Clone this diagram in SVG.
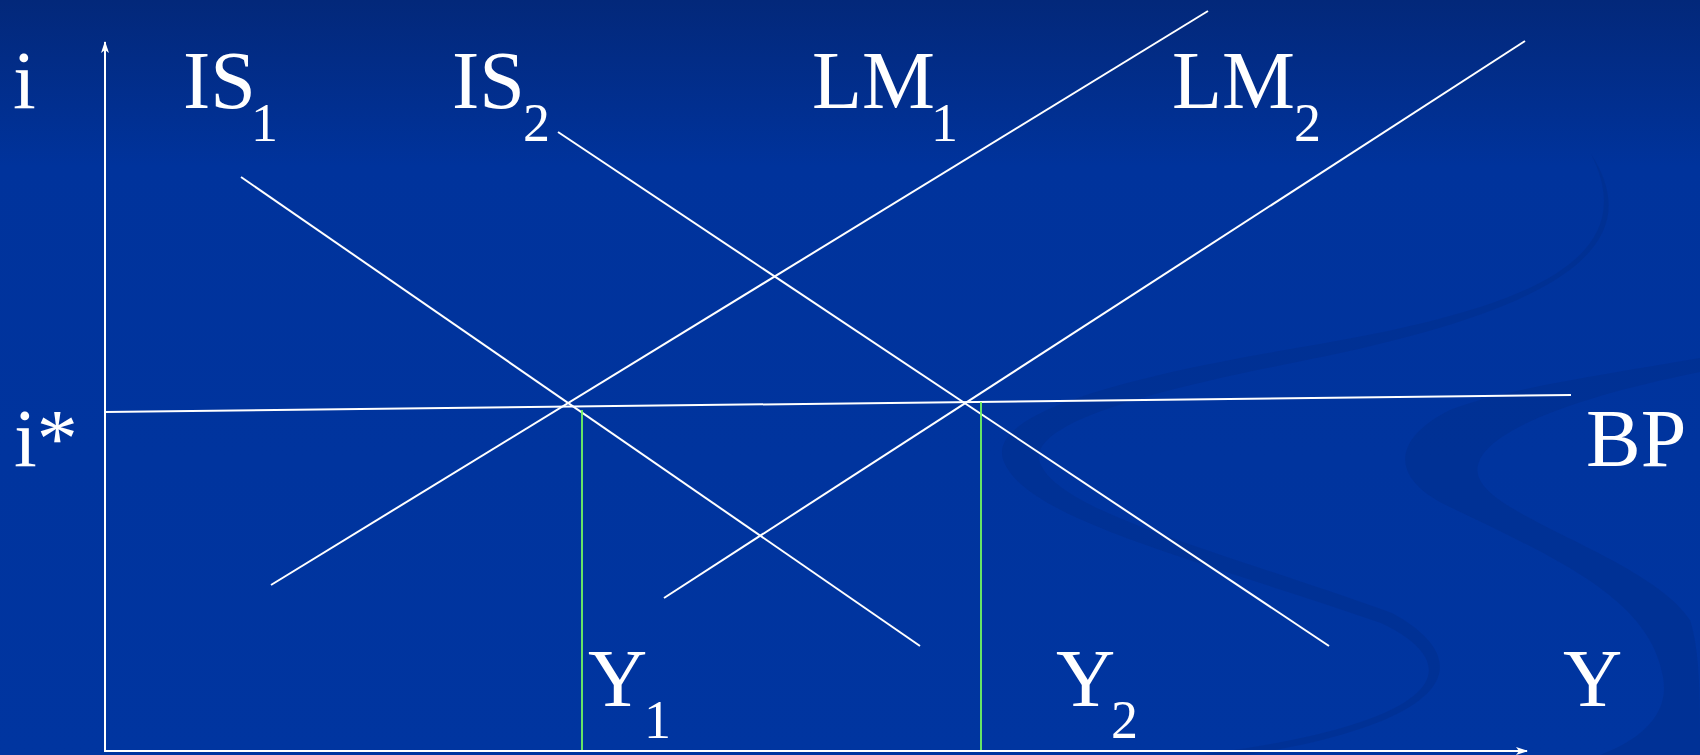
<svg xmlns="http://www.w3.org/2000/svg" width="1700" height="755" viewBox="0 0 1700 755">
  <defs>
    <linearGradient id="bg" x1="0" y1="0" x2="0" y2="1">
      <stop offset="0" stop-color="#03287a"/>
      <stop offset="0.22" stop-color="#00339c"/>
      <stop offset="1" stop-color="#0035a0"/>
    </linearGradient>
    <marker id="arr" viewBox="0 0 12 8" refX="11" refY="4" markerWidth="12" markerHeight="8" markerUnits="userSpaceOnUse" orient="auto">
      <path d="M0,0 L12,4 L0,8 L3,4 Z" fill="#ffffff"/>
    </marker>
    <style>
      .curve { stroke: #ffffff; stroke-width: 2; fill: none; }
      .axis { stroke: #ffffff; stroke-width: 2; fill: none; }
      .guide { stroke: #72f860; stroke-width: 1.8; fill: none; }
      .lbl { font-family: "Liberation Serif", "Times New Roman", serif; font-size: 82px; fill: #ffffff; }
      .sub { font-family: "Liberation Serif", "Times New Roman", serif; font-size: 54px; fill: #ffffff; }
      .swirl { fill: #002c88; fill-opacity: 0.4; }
    </style>
  </defs>

  <rect width="1700" height="755" fill="url(#bg)"/>

  <g id="decor">
    <path class="swirl" d="M1591,154 C1650,270 1500,315 1285,350 C1100,382 985,418 1004,462 C1028,520 1200,560 1381,623 C1470,665 1450,725 1189,756 L1240,756 C1460,722 1478,660 1392,613 C1210,548 1060,512 1040,463 C1028,428 1120,397 1292,363 C1520,318 1660,260 1591,154 Z"/>
    <path class="swirl" d="M1700,358 C1600,375 1500,390 1450,410 C1390,440 1390,480 1452,508 C1560,560 1650,600 1663,677 C1670,715 1640,740 1600,755 L1700,755 L1700,740 C1700,700 1700,650 1690,620 C1650,560 1500,520 1480,480 C1460,440 1560,400 1700,372 Z"/>
  </g>

  <g id="connectors">
    <line id="y-axis" class="axis" x1="105" y1="751" x2="105" y2="42" marker-end="url(#arr)"/>
    <line id="x-axis" class="axis" x1="104" y1="751" x2="1527" y2="751" marker-end="url(#arr)"/>
    <line id="bp" class="curve" x1="105" y1="412" x2="1571" y2="395"/>
    <line id="is1" class="curve" x1="241" y1="177" x2="920" y2="646"/>
    <line id="is2" class="curve" x1="558" y1="132" x2="1329" y2="646"/>
    <line id="lm1" class="curve" x1="271" y1="585" x2="1208" y2="11"/>
    <line id="lm2" class="curve" x1="664" y1="598" x2="1525" y2="41"/>
    <line id="y1-guide" class="guide" x1="582" y1="410" x2="582" y2="750"/>
    <line id="y2-guide" class="guide" x1="981" y1="402" x2="981" y2="750"/>
  </g>

  <g id="label-i"><text class="lbl" x="13" y="108">i</text></g>
  <g id="label-is1"><text class="lbl" x="183" y="108">IS</text><text class="sub" x="251" y="141">1</text></g>
  <g id="label-is2"><text class="lbl" x="452" y="108">IS</text><text class="sub" x="523" y="141">2</text></g>
  <g id="label-lm1"><text class="lbl" x="812" y="108">LM</text><text class="sub" x="931" y="141">1</text></g>
  <g id="label-lm2"><text class="lbl" x="1172" y="108">LM</text><text class="sub" x="1294" y="141">2</text></g>
  <g id="label-istar"><text class="lbl" x="14" y="466">i*</text></g>
  <g id="label-bp"><text class="lbl" x="1586" y="466">BP</text></g>
  <g id="label-y1"><text class="lbl" x="588" y="706">Y</text><text class="sub" x="644" y="738">1</text></g>
  <g id="label-y2"><text class="lbl" x="1056" y="706">Y</text><text class="sub" x="1111" y="738">2</text></g>
  <g id="label-y"><text class="lbl" x="1563" y="706">Y</text></g>
</svg>
